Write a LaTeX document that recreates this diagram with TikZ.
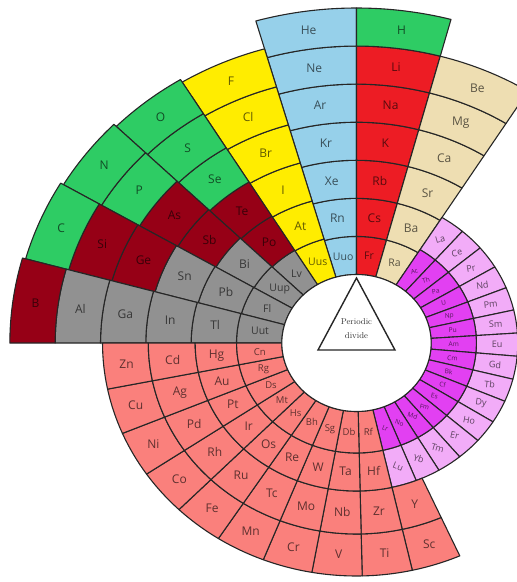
\documentclass[tikz,border=0pt]{standalone}
\usepackage{fontspec}
\newfontfamily\lblfont{Open Sans}
\definecolor{cNoble}{RGB}{150,208,234}
\definecolor{cNonmetal}{RGB}{46,204,100}
\definecolor{cAlkali}{RGB}{237,28,36}
\definecolor{cEarth}{RGB}{238,222,178}
\definecolor{cHalogen}{RGB}{255,237,0}
\definecolor{cMetalloid}{RGB}{150,0,22}
\definecolor{cPost}{RGB}{145,145,145}
\definecolor{cTrans}{RGB}{250,128,124}
\definecolor{cActin}{RGB}{226,64,242}
\definecolor{cLanth}{RGB}{242,172,248}
\def\fs{12}
\tikzset{
  cellb/.style={draw=black!85, line width=1.1pt, line join=round},
  lbl/.style={font=\lblfont\fontsize{\fs}{\fs}\selectfont, text=black, text opacity=0.62, inner sep=0pt},
}
\newcommand{\pcell}[7]{%
  \filldraw[cellb, fill=#5] (#1:#3) arc[start angle=#1, end angle=#2, radius=#3] -- (#2:#4) arc[start angle=#2, end angle=#1, radius=#4] -- cycle;
  \node[lbl,#7] (n#6) at ({((#1)+(#2))/2}:{((#3)+(#4))/2}) {#6};
}
\newcommand{\pgroup}[3]{%
  \foreach \lab/\col [count=\k from 0] in {#3} {%
    \pgfmathsetmacro\ra{68.5+\k*38.07}%
    \pgfmathsetmacro\rb{68.5+(\k+1)*38.07}%
    \ifnum\k=0 \def\fs{10.5}\fi
    \pcell{#1}{#2}{\ra}{\rb}{\col}{\lab}{}%
  }%
}
\newcommand{\mgroup}[4]{%
  \foreach \lab/\col [count=\k from 0] in {#4} {%
    \pgfmathsetmacro\ra{68.5+\k*(#3-68.5)/6}%
    \pgfmathsetmacro\rb{68.5+(\k+1)*(#3-68.5)/6}%
    \ifnum\k=0 \def\fs{10.5}\fi
    \pcell{#1}{#2}{\ra}{\rb}{\col}{\lab}{}%
  }%
}
\begin{document}
\begin{tikzpicture}[x=1.09pt,y=1pt]
\useasboundingbox (-327.06,-239) rectangle (147.25,343);
\clip (-327.06,-239) rectangle (147.25,343);
% s and p blocks
\pgroup{90}{106}{Uuo/cNoble,Rn/cNoble,Xe/cNoble,Kr/cNoble,Ar/cNoble,Ne/cNoble,He/cNoble}
\pgroup{75}{90}{Fr/cAlkali,Cs/cAlkali,Rb/cAlkali,K/cAlkali,Na/cAlkali,Li/cAlkali,H/cNonmetal}
\pgroup{58}{75}{Ra/cEarth,Ba/cEarth,Sr/cEarth,Ca/cEarth,Mg/cEarth,Be/cEarth}
\mgroup{106}{121.5}{306}{Uus/cHalogen,At/cHalogen,I/cHalogen,Br/cHalogen,Cl/cHalogen,F/cHalogen}
\mgroup{121.5}{135.5}{309}{Lv/cPost,Po/cMetalloid,Te/cMetalloid,Se/cNonmetal,S/cNonmetal,O/cNonmetal}
\mgroup{135.5}{149.5}{312}{Uup/cPost,Bi/cPost,Sb/cMetalloid,As/cMetalloid,P/cNonmetal,N/cNonmetal}
\mgroup{149.5}{164.5}{315}{Fl/cPost,Pb/cPost,Sn/cPost,Ge/cMetalloid,Si/cMetalloid,C/cNonmetal}
\mgroup{164.5}{180}{318}{Uut/cPost,Tl/cPost,In/cPost,Ga/cPost,Al/cPost,B/cMetalloid}
% f block
\foreach \la/\ac [count=\k from 0] in {La/Ac,Ce/Th,Pr/Pa,Nd/U,Pm/Np,Sm/Pu,Eu/Am,Gd/Cm,Tb/Bk,Dy/Cf,Ho/Es,Er/Fm,Tm/Md,Yb/No,Lu/Lr} {
  \pgfmathsetmacro\aa{58-\k*9.02}
  \pgfmathsetmacro\ab{58-(\k+1)*9.02}
  \pgfmathsetmacro\amid{(\aa+\ab)/2}
  \pgfmathsetmacro\rl{\amid*0.3}
  \def\fs{9}
  \pcell{\ab}{\aa}{110}{148}{cLanth}{\la}{rotate=\rl}
  \def\fs{6.5}
  \pcell{\ab}{\aa}{68.5}{110}{cActin}{\ac}{rotate=\rl}
}
% d block
\def\fs{12}
\pcell{-77.3}{-66}{191}{233}{cTrans}{Sc}{}
\pcell{-77.3}{-66}{148}{191}{cTrans}{Y}{}
\foreach \pa/\pb/\pc/\pd [count=\g from 0] in {Ti/Zr/Hf/Rf,V/Nb/Ta/Db,Cr/Mo/W/Sg,Mn/Tc/Re/Bh,Fe/Ru/Os/Hs,Co/Rh/Ir/Mt,Ni/Pd/Pt/Ds,Cu/Ag/Au/Rg,Zn/Cd/Hg/Cn} {
  \pgfmathsetmacro\aa{-77.3-\g*11.41}
  \pgfmathsetmacro\ab{\aa-11.41}
  \pcell{\ab}{\aa}{191}{233}{cTrans}{\pa}{}
  \pcell{\ab}{\aa}{148}{191}{cTrans}{\pb}{}
  \pcell{\ab}{\aa}{110}{148}{cTrans}{\pc}{}
  \def\fs{9.5}
  \pcell{\ab}{\aa}{68.5}{110}{cTrans}{\pd}{}
}
% centre
\filldraw[cellb, fill=white] (0,0) circle[radius=68.5];
\filldraw[fill=white, draw=black!85, line width=1.4pt, line join=miter] (0,65) -- (-35.3,-7) -- (35.3,-7) -- cycle;
\node[font=\fontsize{8.5}{14}\selectfont, align=center, text=black!80] (pdiv) at (0,14) {Periodic\\divide};
\end{tikzpicture}
\end{document}
